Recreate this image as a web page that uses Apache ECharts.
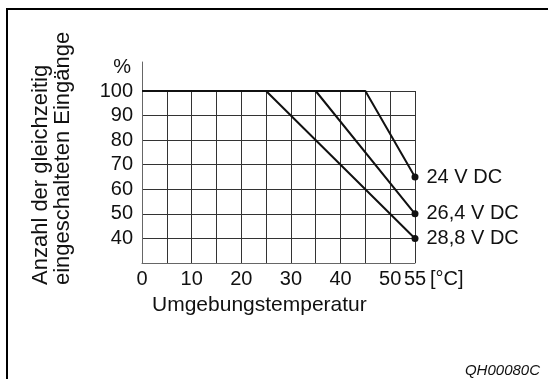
<!DOCTYPE html>
<html>
<head>
<meta charset="utf-8">
<script src="https://cdn.jsdelivr.net/npm/echarts@6/dist/echarts.min.js"></script>
<style>
html,body{margin:0;padding:0;background:#fff;}
#c{width:548px;height:379px;}
</style>
</head>
<body>
<div id="c"></div>
<script>
// ---- data ----
const xTicks = [0, 10, 20, 30, 40, 50, 55];
const yTicks = [40, 50, 60, 70, 80, 90, 100];
const seriesNames = ['24 V DC', '26,4 V DC', '28,8 V DC'];
const temp24 = [0, 45, 55];
const pct24 = [100, 100, 65];
const temp264 = [0, 35, 55];
const pct264 = [100, 100, 50];
const temp288 = [0, 25, 55];
const pct288 = [100, 100, 40];
const yAxisTitle = 'Anzahl der gleichzeitig\neingeschalteten Eingänge';
const xAxisTitle = 'Umgebungstemperatur';
const unitX = '[°C]';
const unitY = '%';
const figCode = 'QH00080C';

const FONT = '"Liberation Sans", Arial, Helvetica, sans-serif';
const INK = '#111';

function buildSeries(name, xs, ys) {
  const data = xs.map((x, i) => {
    const last = i === xs.length - 1;
    return last
      ? { value: [x, ys[i]], symbol: 'circle', symbolSize: 7,
          label: { show: true, formatter: name } }
      : { value: [x, ys[i]], symbol: 'none' };
  });
  return {
    type: 'line', name: name, xAxisIndex: 0, yAxisIndex: 0,
    data: data, symbol: 'circle', symbolSize: 7, showSymbol: true,
    lineStyle: { color: INK, width: 2 },
    itemStyle: { color: INK },
    label: { show: false, position: 'right', distance: 8, color: INK,
             fontSize: 20, fontFamily: FONT },
    emphasis: { disabled: true },
    animation: false, z: 5
  };
}

const chart = echarts.init(document.getElementById('c'), null, { renderer: 'canvas' });
chart.setOption({
  animation: false,
  backgroundColor: '#fff',
  textStyle: { fontFamily: FONT },
  grid: [
    { left: 142, right: 133, top: 91, bottom: 116, outerBoundsMode: 'none', containLabel: false },
    { left: 142, right: 133, top: 62, bottom: 116, outerBoundsMode: 'none', containLabel: false }
  ],
  xAxis: [
    {
      type: 'value', gridIndex: 0, min: 0, max: 55, interval: 5,
      name: unitX, nameLocation: 'end', nameGap: 14,
      nameTextStyle: { fontSize: 20, color: INK, fontFamily: FONT, verticalAlign: 'top', padding: [6, 0, 0, 0] },
      axisLine: { show: true, onZero: false, lineStyle: { color: '#666', width: 1 } },
      axisTick: { show: false },
      axisLabel: {
        interval: 0, margin: 6, fontSize: 20, color: INK, fontFamily: FONT,
        formatter: v => (xTicks.indexOf(v) >= 0 ? String(v) : '')
      },
      splitLine: { show: true, lineStyle: { color: '#333', width: 1 } }
    },
    { type: 'value', gridIndex: 1, min: 0, max: 55, show: false }
  ],
  yAxis: [
    {
      type: 'value', gridIndex: 0, min: 30, max: 100, interval: 10,
      axisLine: { show: true, onZero: false, lineStyle: { color: '#666', width: 1 } },
      axisTick: { show: false },
      axisLabel: {
        margin: 9, fontSize: 20, color: INK, fontFamily: FONT,
        formatter: v => (yTicks.indexOf(v) >= 0 ? String(v) : '')
      },
      splitLine: { show: true, lineStyle: { color: '#333', width: 1 } }
    },
    {
      type: 'value', gridIndex: 1, min: 30, max: 112,
      name: unitY, nameLocation: 'end', nameGap: -5,
      nameTextStyle: { fontSize: 20, color: INK, fontFamily: FONT, align: 'right', verticalAlign: 'middle', padding: [0, 11, 0, 0] },
      axisLine: { show: true, onZero: false, lineStyle: { color: '#666', width: 1 } },
      axisTick: { show: false },
      axisLabel: { show: false },
      splitLine: { show: false }
    }
  ],
  series: [
    buildSeries(seriesNames[0], temp24, pct24),
    buildSeries(seriesNames[1], temp264, pct264),
    buildSeries(seriesNames[2], temp288, pct288)
  ],
  graphic: [
    { type: 'rect', silent: true, z: 100,
      shape: { x: 7, y: 9, width: 700, height: 500 },
      style: { fill: null, stroke: '#000', lineWidth: 2 } },
    { type: 'text', silent: true, x: 30, y: 285, rotation: Math.PI / 2,
      style: { text: yAxisTitle, font: '22px ' + FONT, fill: INK,
               align: 'left', verticalAlign: 'top', lineHeight: 22 } },
    { type: 'text', silent: true, x: 152, y: 295,
      style: { text: xAxisTitle, font: '21px ' + FONT, fill: INK,
               align: 'left', verticalAlign: 'top' } },
    { type: 'text', silent: true, x: 540, y: 371,
      style: { text: figCode, font: 'italic 15px ' + FONT, fill: INK,
               align: 'right', verticalAlign: 'middle' } }
  ]
});
</script>
</body>
</html>
